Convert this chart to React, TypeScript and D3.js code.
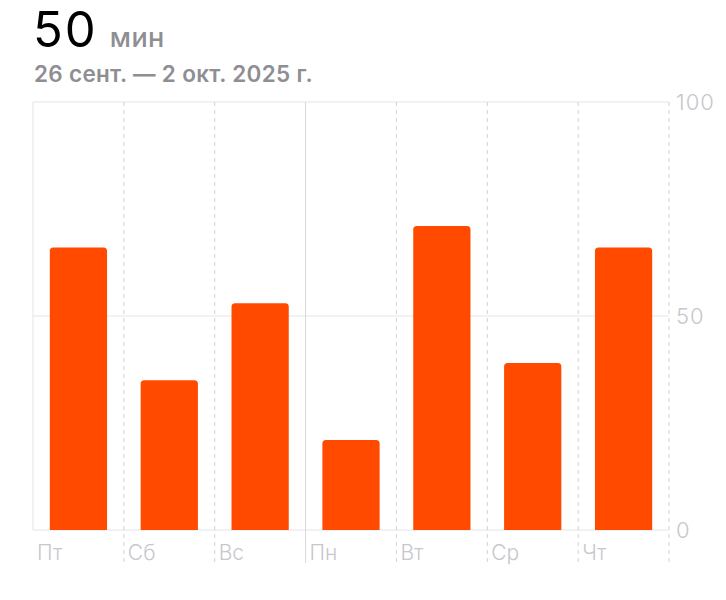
import React from "react";
import * as d3 from "d3";

const days = ["Пт", "Сб", "Вс", "Пн", "Вт", "Ср", "Чт"];
const minutes = [66, 35, 53, 21, 71, 39, 66];
const yTicks = [0, 50, 100];
const solidDividers = ["Пн"];
const titleValue = "50";
const titleUnit = "мин";
const subtitle = "26 сент. — 2 окт. 2025 г.";

const W = 726, H = 600;
const left = 33, right = 669, top = 102, bottom = 530;

export default function App() {
  const x = d3.scaleBand<string>().domain(days).range([left, right]).paddingInner(0).paddingOuter(0);
  const y = d3.scaleLinear().domain([0, 100]).range([bottom, top]);
  const step = x.step();
  const bw = step * 0.63;
  const r = 3.5;
  const font = "Inter, 'Noto Sans', sans-serif";
  const barPath = (x0: number, y0: number, w: number, y1: number) => {
    const p = d3.path();
    p.moveTo(x0, y1);
    p.lineTo(x0, y0 + r);
    p.quadraticCurveTo(x0, y0, x0 + r, y0);
    p.lineTo(x0 + w - r, y0);
    p.quadraticCurveTo(x0 + w, y0, x0 + w, y0 + r);
    p.lineTo(x0 + w, y1);
    p.closePath();
    return p.toString();
  };
  return (
    <svg width={W} height={H} style={{ position: "absolute", left: 0, top: 0, background: "#fff" }}>
      <text x={33} y={47} fontFamily={font} fontSize={49} fontWeight={400} fill="#000" letterSpacing={2}>
        {titleValue}
        <tspan dx={12} fontSize={27} fontWeight={500} fill="#8e8e93" letterSpacing={0.5}>{titleUnit}</tspan>
      </text>
      <text x={34} y={82} fontFamily={font} fontSize={22.5} fontWeight={600} fill="#8e8e93" letterSpacing={0.3}>{subtitle}</text>

      {yTicks.map((t) => (
        <line key={"g" + t} x1={left} x2={right} y1={y(t)} y2={y(t)} stroke="#e5e5ea" strokeWidth={1} />
      ))}
      <line x1={left} x2={left} y1={top} y2={bottom} stroke="#e5e5ea" strokeWidth={1} />
      {days.slice(1).map((d) => (
        <line key={"d" + d} x1={x(d)} x2={x(d)} y1={top} y2={563}
          stroke={solidDividers.includes(d) ? "#d8d8dc" : "#d1d1d6"} strokeWidth={1}
          strokeDasharray={solidDividers.includes(d) ? undefined : "4,4"} />
      ))}
      <line x1={right} x2={right} y1={top} y2={563} stroke="#d1d1d6" strokeWidth={1} strokeDasharray="4,4" />

      {days.map((d, i) => {
        const x0 = (x(d) as number) + (step - bw) / 2;
        return <path key={"b" + d} d={barPath(x0, y(minutes[i]), bw, y(0))} fill="#ff4a00" />;
      })}

      {days.map((d) => (
        <text key={"l" + d} x={(x(d) as number) + 4} y={560} fontFamily={font} fontSize={21} fontWeight={300} fill="#c7c7cc">{d}</text>
      ))}
      {yTicks.map((t) => (
        <text key={"y" + t} x={676} y={y(t)} dy="0.36em" fontFamily={font} fontSize={22} fontWeight={300} fill="#c7c7cc" letterSpacing={1}>{t}</text>
      ))}
    </svg>
  );
}
